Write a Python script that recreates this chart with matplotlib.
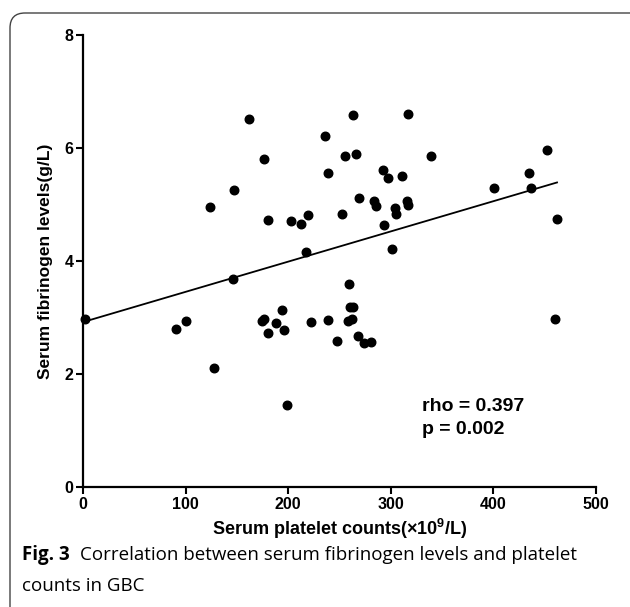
import numpy as np
import matplotlib
matplotlib.use("Agg")
import matplotlib.pyplot as plt
from matplotlib.path import Path
from matplotlib.patches import PathPatch

# platelet counts (x10^9/L) and fibrinogen (g/L)
platelet = [2, 91, 100, 124, 128, 146, 147.5, 162, 174, 176, 176, 180, 180, 188,
            194, 196, 199, 203, 212, 217, 219, 222, 236, 239, 239, 248, 252, 255,
            258, 259, 260, 262, 263, 263.5, 266, 268, 269, 274, 281, 284, 286, 292,
            293, 297, 301, 304, 305, 311, 316, 316.5, 317, 339, 401, 435, 437, 452,
            460, 462]
fibrinogen = [2.97, 2.80, 2.94, 4.96, 2.11, 3.69, 5.26, 6.51, 2.93, 2.98, 5.81, 4.72,
              2.72, 2.90, 3.14, 2.78, 1.45, 4.70, 4.65, 4.16, 4.81, 2.92, 6.21, 5.55,
              2.95, 2.58, 4.83, 5.85, 2.94, 3.60, 3.19, 2.97, 6.58, 3.19, 5.89, 2.67,
              5.12, 2.54, 2.56, 5.07, 4.97, 5.61, 4.63, 5.47, 4.21, 4.93, 4.84, 5.51,
              5.07, 5.00, 6.60, 5.85, 5.29, 5.55, 5.30, 5.96, 2.97, 4.74]

# regression line ends
fit_x = [2, 462]
fit_y = [2.93, 5.39]

x_ticks = [0, 100, 200, 300, 400, 500]
y_ticks = [0, 2, 4, 6, 8]

plt.rcParams["font.family"] = ["Liberation Sans", "DejaVu Sans"]
plt.rcParams["mathtext.fontset"] = "custom"
plt.rcParams["mathtext.rm"] = "Liberation Sans:bold"
plt.rcParams["mathtext.default"] = "rm"

W, H = 630, 607
fig = plt.figure(figsize=(W / 100, H / 100), dpi=100)

def fx(px):
    return px / W

def fy(py):
    return 1 - py / H

ax = fig.add_axes([fx(83), fy(487), fx(596) - fx(83), fy(35) - fy(487)])

ax.scatter(platelet, fibrinogen, s=38, color="black", zorder=3, clip_on=False)
ax.plot(fit_x, fit_y, color="black", lw=1.3)

ax.set_xlim(0, 500)
ax.set_ylim(0, 8)
ax.set_xticks(x_ticks)
ax.set_yticks(y_ticks)
for s in ["top", "right"]:
    ax.spines[s].set_visible(False)
for s in ["left", "bottom"]:
    ax.spines[s].set_linewidth(1.6)
ax.tick_params(direction="out", length=5, width=1.5, labelsize=11.5, pad=2)
for lab in ax.get_xticklabels() + ax.get_yticklabels():
    lab.set_fontweight("bold")

ax.set_xlabel("Serum platelet counts(\u00d710$^9$/L)", fontsize=13, fontweight="bold", labelpad=4)
ax.set_ylabel("Serum fibrinogen levels(g/L)", fontsize=12.5, fontweight="bold", labelpad=8)

ax.text(330, 1.42, "rho = 0.397", fontsize=14, fontweight="bold", va="center")
ax.text(330, 1.01, "p = 0.002", fontsize=14, fontweight="bold", va="center")

# caption
fig.text(fx(22), fy(555), "Fig. 3", fontsize=13.5, fontweight="bold", family="Open Sans", va="center")
fig.text(fx(80), fy(555), "Correlation between serum fibrinogen levels and platelet",
         fontsize=13.5, family="Open Sans", va="center")
fig.text(fx(22), fy(586), "counts in GBC", fontsize=13.5, family="Open Sans", va="center")

# frame: left and top edges with a rounded corner
verts = [(fx(10), fy(607)), (fx(10), fy(28)), (fx(10), fy(13)), (fx(25), fy(13)), (fx(630), fy(13))]
codes = [Path.MOVETO, Path.LINETO, Path.CURVE3, Path.CURVE3, Path.LINETO]
fig.patches.append(PathPatch(Path(verts, codes), transform=fig.transFigure,
                             fill=False, edgecolor="#444444", lw=1.0))

fig.savefig("out.png", dpi=100)
